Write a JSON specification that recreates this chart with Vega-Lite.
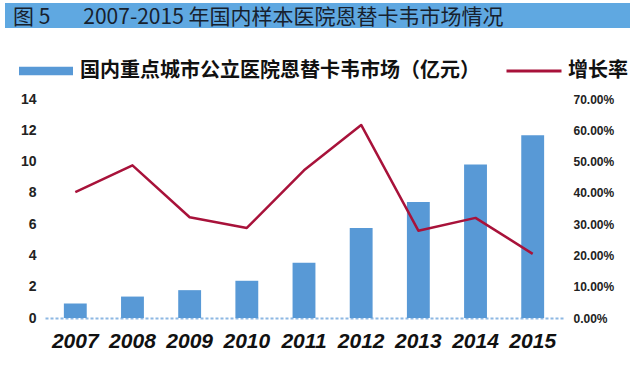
{
  "$schema": "https://vega.github.io/schema/vega-lite/v6.json",
  "padding": {"left": 5, "top": 3, "right": 0, "bottom": 0},
  "background": "white",
  "config": {"view": {"stroke": null}},
  "bounds": "flush",
  "spacing": 71,
  "datasets": {
    "market": [
      {"year": "2007", "market": 0.92, "growth": 0.402},
      {"year": "2008", "market": 1.37, "growth": 0.488},
      {"year": "2009", "market": 1.78, "growth": 0.322},
      {"year": "2010", "market": 2.38, "growth": 0.288},
      {"year": "2011", "market": 3.53, "growth": 0.472},
      {"year": "2012", "market": 5.76, "growth": 0.617},
      {"year": "2013", "market": 7.41, "growth": 0.279},
      {"year": "2014", "market": 9.81, "growth": 0.32},
      {"year": "2015", "market": 11.69, "growth": 0.205}
    ]
  },
  "vconcat": [
    {
      "width": 625,
      "height": 25,
      "view": {"fill": "#5fa8e1", "stroke": null},
      "data": {"values": [{"t": "图 5\u00a0\u00a0\u00a0\u00a0\u00a0\u00a0 2007-2015 年国内样本医院恩替卡韦市场情况"}]},
      "mark": {
        "type": "text",
        "align": "left",
        "baseline": "middle",
        "dx": -304.5,
        "dy": 2,
        "font": "Noto Sans CJK SC",
        "fontSize": 21,
        "fontWeight": "normal",
        "color": "#17212e"
      },
      "encoding": {"text": {"field": "t", "type": "nominal"}}
    },
    {
      "bounds": "flush",
      "spacing": 0,
      "hconcat": [
        {"width": 40, "height": 10, "data": {"values": []}, "mark": "text", "encoding": {}},
        {
          "width": 518,
          "height": 219,
          "data": {"name": "market"},
          "encoding": {
            "x": {
              "field": "year",
              "type": "ordinal",
              "scale": {"paddingInner": 0.6, "paddingOuter": 0.33},
              "axis": {
                "title": null,
                "labelAngle": 0,
                "ticks": false,
                "labelFont": "Liberation Sans",
                "labelFontStyle": "italic",
                "labelFontWeight": "bold",
                "labelFontSize": 21,
                "labelColor": "#111111",
                "labelPadding": 12,
                "domainColor": "#8db8e3",
                "domainWidth": 2,
                "domainDash": [3, 2]
              }
            }
          },
          "layer": [
            {
              "mark": {"type": "bar"},
              "encoding": {
                "y": {
                  "field": "market",
                  "type": "quantitative",
                  "scale": {"domain": [0, 14], "nice": false},
                  "axis": {
                    "orient": "left",
                    "title": null,
                    "values": [0, 2, 4, 6, 8, 10, 12, 14],
                    "grid": false,
                    "domain": false,
                    "ticks": false,
                    "labelFont": "Liberation Sans",
                    "labelFontWeight": "bold",
                    "labelFontSize": 14,
                    "labelColor": "#222222",
                    "labelPadding": 9
                  }
                },
                "fill": {
                  "datum": "国内重点城市公立医院恩替卡韦市场（亿元）",
                  "type": "nominal",
                  "scale": {"range": ["#5899d6"]},
                  "legend": {
                    "title": null,
                    "orient": "none",
                    "legendX": 14,
                    "legendY": 41,
                    "padding": 0,
                    "symbolType": "M-1,-0.16L1,-0.16L1,0.16L-1,0.16Z",
                    "symbolSize": 2916,
                    "symbolStrokeWidth": 0,
                    "labelOffset": 7,
                    "labelFont": "Noto Sans CJK SC",
                    "labelFontSize": 20,
                    "labelFontWeight": "bold",
                    "labelColor": "#111111",
                    "labelLimit": 600
                  }
                }
              }
            },
            {
              "mark": {"type": "line", "strokeWidth": 2.5, "strokeJoin": "round"},
              "encoding": {
                "y": {
                  "field": "growth",
                  "type": "quantitative",
                  "scale": {"domain": [0, 0.7], "nice": false},
                  "axis": {
                    "orient": "right",
                    "title": null,
                    "values": [0, 0.1, 0.2, 0.3, 0.4, 0.5, 0.6, 0.7],
                    "format": ".2%",
                    "grid": false,
                    "domain": false,
                    "ticks": false,
                    "labelFont": "Liberation Sans",
                    "labelFontWeight": "bold",
                    "labelFontSize": 12,
                    "labelColor": "#222222",
                    "labelPadding": 10
                  }
                },
                "stroke": {
                  "datum": "增长率",
                  "type": "nominal",
                  "scale": {"range": ["#a8123a"]},
                  "legend": {
                    "title": null,
                    "orient": "none",
                    "legendX": 500,
                    "legendY": 39,
                    "padding": 0,
                    "symbolType": "M-1,0L1,0",
                    "symbolSize": 3025,
                    "symbolStrokeWidth": 3,
                    "labelOffset": 5,
                    "labelFont": "Noto Sans CJK SC",
                    "labelFontSize": 20,
                    "labelFontWeight": "bold",
                    "labelColor": "#111111",
                    "labelLimit": 200
                  }
                }
              }
            }
          ],
          "resolve": {"scale": {"y": "independent"}}
        }
      ]
    }
  ]
}
